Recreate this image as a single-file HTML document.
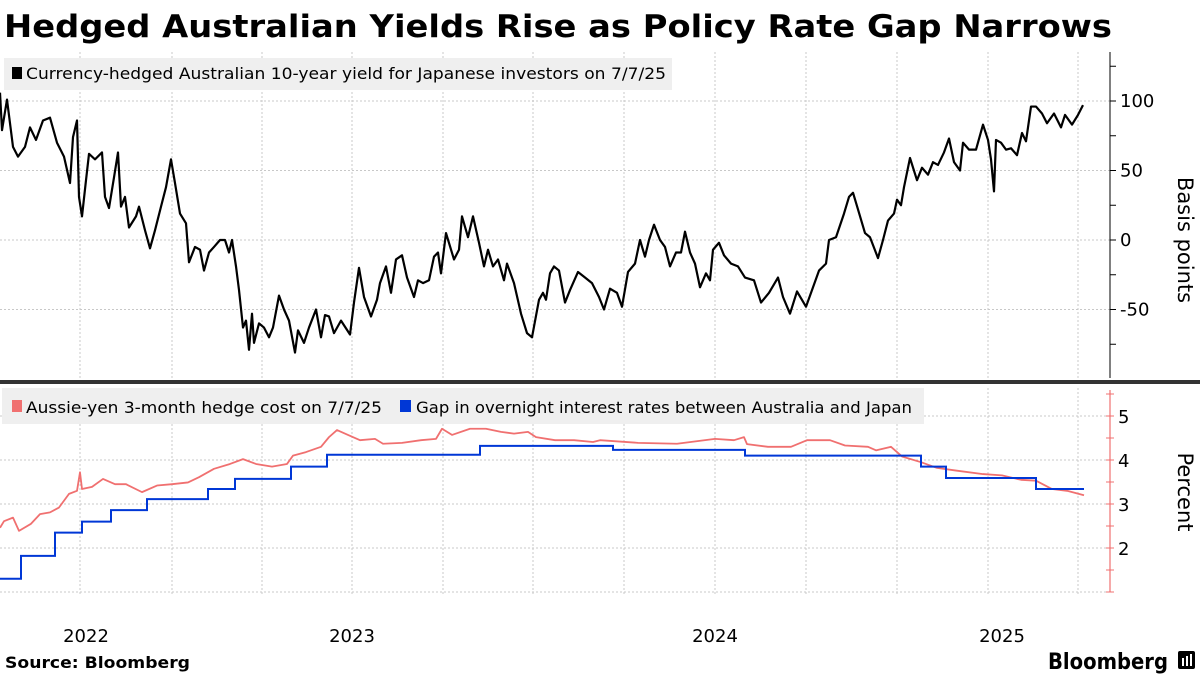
<!DOCTYPE html>
<html><head><meta charset="utf-8"><style>
body{margin:0;background:#fff;width:1200px;height:675px;overflow:hidden;font-family:"DejaVu Sans",sans-serif}
svg text{font-family:"DejaVu Sans","Liberation Sans",sans-serif}
</style></head><body>
<svg id="c" width="1200" height="675" xmlns="http://www.w3.org/2000/svg"></svg>
<script>
// ---- data ----
const yieldDays = [0,2,7,13,18,25,30,36,43,50,57,64,70,73,77,79,82,86,89,95,102,105,109,114,118,121,125,129,136,139,145,150,155,161,166,171,175,180,186,189,195,200,204,209,214,220,225,229,232,236,239,243,246,249,252,254,259,264,269,273,279,284,289,295,298,304,309,316,321,325,329,334,341,350,354,359,364,371,377,380,386,391,396,402,407,414,418,423,429,434,438,441,446,454,459,462,468,473,479,484,488,493,498,504,507,514,521,527,532,539,543,546,550,554,559,
565,570,578,585,592,599,604,610,617,622,628,635,640,645,649,654,660,665,670,676,681,685,690,695,700,706,710,713,719,724,731,738,745,754,761,769,778,783,790,797,806,811,819,826,829,836,844,849,853,858,865,870,878,883,888,894,897,901,904,910,917,922,928,933,938,944,949,954,960,963,969,976,983,988,991,994,996,1001,1006,1011,1017,1022,1026,1031,1036,1042,1047,1054,1061,1065,1072,1078,1083];
const yieldBp = [106,79,101,67,60,67,81,72,86,88,70,60,41,74,86,31,17,43,62,58,63,31,23,45,63,24,31,9,17,24,7,-6,7,24,38,58,41,19,12,-16,-5,-7,-22,-9,-5,0,0,-9,0,-19,-36,-63,-58,-79,-53,-74,-60,-63,-70,-63,-40,-50,-58,-81,-65,-74,-63,-50,-70,-54,-55,-67,-58,-68,-45,-20,-41,-55,-43,-31,-19,-38,-14,-11,-27,-41,-29,-31,-29,-12,-9,-24,5,-14,-7,17,2,17,-2,-19,-7,-19,-14,-29,-17,-31,-53,-67,-70,-43,-38,-43,-24,-19,-22,
-45,-36,-23,-27,-31,-41,-50,-35,-38,-48,-23,-17,0,-12,0,11,0,-5,-19,-9,-9,6,-9,-17,-34,-24,-29,-7,-2,-11,-17,-19,-27,-29,-45,-38,-27,-41,-53,-37,-48,-38,-22,-17,0,2,19,31,34,22,5,2,-13,0,14,19,29,25,38,59,43,52,47,56,54,63,73,56,50,70,65,65,83,72,58,35,72,70,65,66,61,77,71,96,96,91,84,91,81,90,83,90,97];
const hedgeDays = [0,4,13,19,31,40,50,59,69,77,80,82,92,103,115,126,142,157,172,188,199,214,230,243,256,272,287,293,306,321,329,337,348,360,375,383,402,421,436,442,452,470,486,501,514,528,536,555,574,593,600,638,677,715,734,744,747,768,791,807,830,845,868,876,891,902,921,937,956,983,1002,1021,1036,1052,1067,1084];
const hedgePct = [2.46,2.61,2.69,2.39,2.55,2.77,2.81,2.92,3.23,3.30,3.72,3.34,3.39,3.57,3.45,3.45,3.27,3.42,3.45,3.49,3.61,3.80,3.91,4.02,3.91,3.85,3.91,4.10,4.18,4.30,4.52,4.68,4.57,4.45,4.48,4.37,4.39,4.45,4.48,4.71,4.57,4.71,4.71,4.64,4.60,4.64,4.52,4.45,4.45,4.41,4.45,4.39,4.37,4.48,4.45,4.52,4.36,4.30,4.30,4.45,4.45,4.33,4.30,4.22,4.30,4.08,3.95,3.82,3.76,3.68,3.65,3.55,3.53,3.34,3.30,3.20];
const gapDays = [0,21,55,82,111,147,208,235,291,327,480,613,745,921,946,1036,1084];
const gapPct = [1.30,1.82,2.35,2.60,2.86,3.11,3.34,3.57,3.85,4.12,4.32,4.23,4.10,3.85,3.59,3.34,3.34];
const gridDays = [80,172,262,352,443,533,624,715,806,897,988,1078];
const yearLabels = ["2022","2023","2024","2025"];
const yearMid = [86,352,715,1002];
const bpTicks = [100,50,0,-50];
const pctTicks = [5,4,3,2];

// ---- scales ----
const X = d => d * 1.0;
const Ytop = v => 240 - v * 1.39;
const Ybot = v => 460 - (v - 4) * 44;
const NS = "http://www.w3.org/2000/svg";
const svg = document.getElementById('c');
function mk(tag, attrs, parent){const e=document.createElementNS(NS,tag);for(const k in attrs)e.setAttribute(k,attrs[k]);(parent||svg).appendChild(e);return e;}

// title
let t = mk('text',{x:4,y:37,'font-size':31,'font-weight':'bold',fill:'#000',textLength:1108,lengthAdjust:'spacingAndGlyphs'});
t.textContent='Hedged Australian Yields Rise as Policy Rate Gap Narrows';



// grids
const grid = mk('g',{stroke:'#c8c8c8','stroke-width':1,'stroke-dasharray':'2,2'});


gridDays.forEach(d=>{mk('line',{x1:X(d),x2:X(d),y1:52,y2:378},grid);mk('line',{x1:X(d),x2:X(d),y1:388,y2:595},grid);});
bpTicks.forEach(v=>mk('line',{x1:0,x2:1110,y1:Ytop(v),y2:Ytop(v)},grid));
[5,4,3,2,1].forEach(v=>mk('line',{x1:0,x2:1110,y1:Ybot(v),y2:Ybot(v)},grid));

// legends
let lg = mk('g',{});


mk('rect',{x:4,y:58,width:668,height:32,fill:'#efefef'},lg);
mk('rect',{x:12,y:67,width:10,height:12,fill:'#000'},lg);
t=mk('text',{x:26,y:79,'font-size':16,fill:'#000',textLength:640,lengthAdjust:'spacingAndGlyphs'},lg);t.textContent='Currency-hedged Australian 10-year yield for Japanese investors on 7/7/25';
let lg2 = mk('g',{});


mk('rect',{x:2,y:388,width:922,height:36,fill:'#efefef'},lg2);
mk('rect',{x:12,y:400,width:10,height:12,fill:'#f07070'},lg2);
t=mk('text',{x:26,y:413,'font-size':16,fill:'#000',textLength:356,lengthAdjust:'spacingAndGlyphs'},lg2);t.textContent='Aussie-yen 3-month hedge cost on 7/7/25';
mk('rect',{x:400,y:400,width:11,height:12,fill:'#0037d6'},lg2);
t=mk('text',{x:416,y:413,'font-size':16,fill:'#000',textLength:496,lengthAdjust:'spacingAndGlyphs'},lg2);t.textContent='Gap in overnight interest rates between Australia and Japan';

// series
let p = mk('polyline',{fill:'none',stroke:'#000','stroke-width':2.2,'stroke-linejoin':'round',points:yieldDays.map((d,i)=>X(d)+','+Ytop(yieldBp[i])).join(' ')});


p = mk('polyline',{fill:'none',stroke:'#f07070','stroke-width':1.8,'stroke-linejoin':'round',points:hedgeDays.map((d,i)=>X(d)+','+Ybot(hedgePct[i])).join(' ')});


let pts=[];
gapDays.forEach((d,i)=>{ if(i>0) pts.push(X(d)+','+Ybot(gapPct[i-1])); pts.push(X(d)+','+Ybot(gapPct[i])); });
p = mk('polyline',{fill:'none',stroke:'#0037d6','stroke-width':2,points:pts.join(' ')});



// separator
p = mk('rect',{x:0,y:380,width:1200,height:4,fill:'#333'});



// top axis
let ax = mk('g',{});


mk('line',{x1:1110,x2:1110,y1:52,y2:378,stroke:'#000','stroke-width':1},ax);
for(let v=-75;v<=125;v+=25){mk('line',{x1:1110,x2:1116,y1:Ytop(v),y2:Ytop(v),stroke:'#000'},ax);}
bpTicks.forEach(v=>{const e=mk('text',{x:1120,y:Ytop(v)+6,'font-size':18,fill:'#000'},ax);e.textContent=String(v);});
t=mk('text',{x:1178,y:240,'font-size':21,fill:'#000','text-anchor':'middle',transform:'rotate(90 1178 240)'},ax);t.textContent='Basis points';
// bottom axis
ax = mk('g',{});


mk('line',{x1:1110,x2:1110,y1:390,y2:592,stroke:'#f07070','stroke-width':1.2},ax);
for(let v=1;v<=5.5;v+=0.5){mk('line',{x1:1106,x2:1114,y1:Ybot(v),y2:Ybot(v),stroke:'#f07070'},ax);}
pctTicks.forEach(v=>{const e=mk('text',{x:1118,y:Ybot(v)+7,'font-size':18,fill:'#000'},ax);e.textContent=String(v);});
t=mk('text',{x:1178,y:492,'font-size':21,fill:'#000','text-anchor':'middle',transform:'rotate(90 1178 492)'},ax);t.textContent='Percent';

// x labels
ax = mk('g',{});


yearLabels.forEach((l,i)=>{const e=mk('text',{x:X(yearMid[i]),y:642,'font-size':18,fill:'#000','text-anchor':'middle'},ax);e.textContent=l;});

// footer
t=mk('text',{x:5,y:668,'font-size':16,'font-weight':'bold',fill:'#000',textLength:185,lengthAdjust:'spacingAndGlyphs'});t.textContent='Source: Bloomberg';


t=mk('text',{x:1048,y:669,'font-size':22,'font-weight':'bold',fill:'#000',textLength:120,lengthAdjust:'spacingAndGlyphs'});t.textContent='Bloomberg';


let ic=mk('g',{});


mk('rect',{x:1178,y:651,width:17,height:18,rx:2,fill:'#000'},ic);
[1182,1186,1190].forEach((x,i)=>mk('rect',{x:x,y:658-i*2,width:2,height:8+i*2,fill:'#fff'},ic));
</script>
</body></html>
